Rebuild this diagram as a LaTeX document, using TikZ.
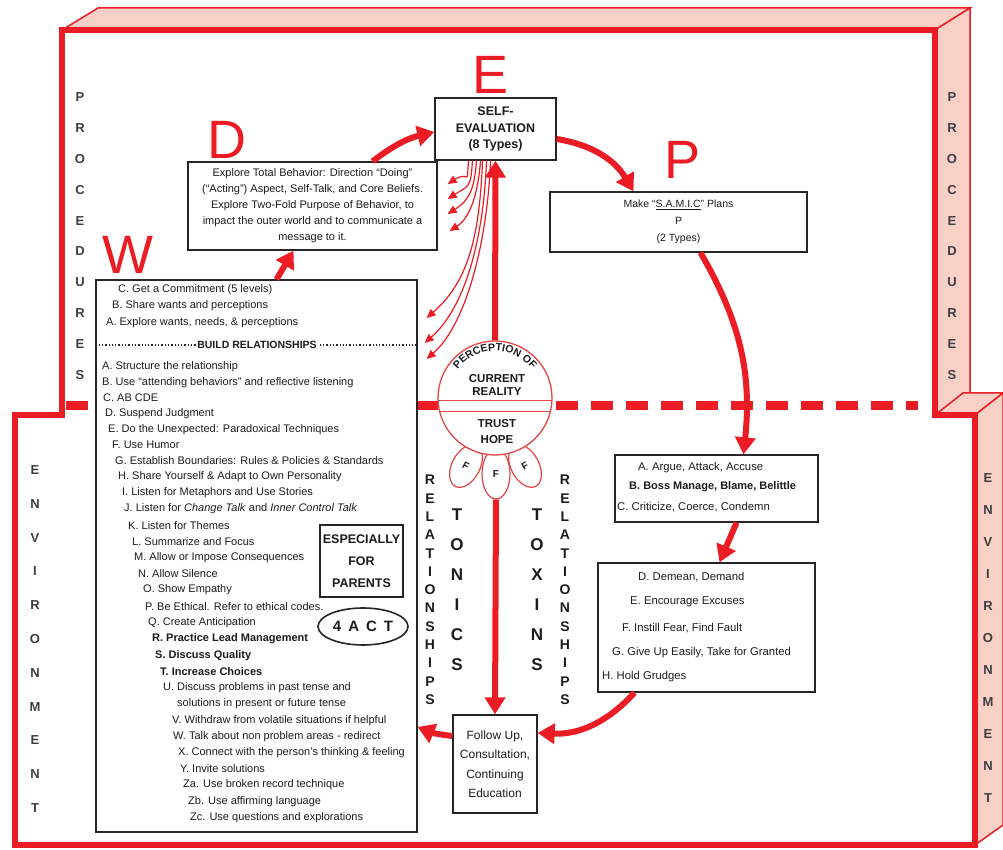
\documentclass[tikz,border=0pt]{standalone}
\usepackage{fontspec}
\setmainfont{Liberation Sans}
\usetikzlibrary{arrows.meta,shapes.geometric,decorations.text,calc}
\definecolor{myred}{RGB}{236,28,36}
\definecolor{pinkface}{RGB}{249,208,198}
\definecolor{txt}{RGB}{28,28,28}
\definecolor{petalred}{RGB}{226,70,70}
\begin{document}
\begin{tikzpicture}[x=1pt,y=1pt,
  box/.style={draw=black!85, line width=1.3pt, fill=white, inner sep=2pt, text=txt},
  wtext/.style={anchor=west, inner sep=0pt, text=txt, font=\fontsize{11}{12}\selectfont},
  rtext/.style={anchor=west, inner sep=0pt, text=txt, font=\fontsize{11.3}{12}\selectfont},
  bigletter/.style={text=myred, inner sep=0pt, font=\fontsize{54}{54}\selectfont},
  sidelet/.style={text=txt!85, inner sep=0pt, font=\bfseries\fontsize{13}{13}\selectfont},
  vlet/.style={text=txt, inner sep=0pt, font=\bfseries\fontsize{17}{17}\selectfont},
  rlet/.style={text=txt, inner sep=0pt, font=\bfseries\fontsize{14}{14}\selectfont},
  bigarrow/.style={draw=myred, line width=6pt, -{Triangle[length=17pt,width=20pt]}},
  thinarrow/.style={draw=myred, line width=1.2pt, -{Triangle[length=9pt,width=8pt]}},
  facestyle/.style={fill=pinkface, draw=myred, line width=1.5pt},
  ctext/.style={text=txt, inner sep=0pt, font=\bfseries\fontsize{11.5}{12}\selectfont}
]
\useasboundingbox (0,0) rectangle (1003,850);
\fill[white] (0,0) rectangle (1003,850);

% 3D frame faces
\filldraw[facestyle] (62,820) -- (98,842) -- (970,842) -- (935,820) -- cycle;
\filldraw[facestyle] (935,820) -- (970,842) -- (970,457) -- (935,435) -- cycle;
\filldraw[facestyle] (935,435) -- (963,457) -- (1003,457) -- (975,435) -- cycle;
\filldraw[facestyle] (975,435) -- (1003,457) -- (1003,25) -- (975,5) -- cycle;
\draw[myred, line width=6pt, line join=miter] (15,5) -- (15,435) -- (62,435) -- (62,820) -- (935,820) -- (935,435) -- (975,435) -- (975,5) -- cycle;

% dashed boundary
\draw[myred, line width=9pt, dash pattern=on 22pt off 13pt] (66,444) -- (918,444);

% side labels
\foreach \l [count=\i] in {P,R,O,C,E,D,U,R,E,S} {
  \node[sidelet] (lp\i) at (80,{753-30.9*(\i-1)}) {\l};
  \node[sidelet] (rp\i) at (952,{753-30.9*(\i-1)}) {\l};
}
\foreach \l [count=\i] in {E,N,V,I,R,O,N,M,E,N,T} {
  \node[sidelet] (le\i) at (35,{380-33.8*(\i-1)}) {\l};
  \node[sidelet] (re\i) at (988,{372-32*(\i-1)}) {\l};
}

% big letters
\node[bigletter] (bigE) at (491,775) {E};
\node[bigletter] (bigD) at (227,710) {D};
\node[bigletter] (bigP) at (682,690) {P};
\node[bigletter] (bigW) at (128,595) {W};

% main boxes
\node[box, minimum width=121pt, minimum height=62pt, align=center,
      font=\bfseries\fontsize{12.5}{16.5}\selectfont] (E) at (495.5,721) {SELF-\\EVALUATION\\(8 Types)};
\node[box, minimum width=249pt, minimum height=88pt, align=center,
      font=\fontsize{11}{16}\selectfont] (D) at (312.5,644)
  {Explore Total Behavior: Direction ``Doing''\\(``Acting'') Aspect, Self-Talk, and Core Beliefs.\\Explore Two-Fold Purpose of Behavior, to\\impact the outer world and to communicate a\\message to it.};
\node[box, minimum width=257pt, minimum height=60pt, align=center,
      font=\fontsize{10.5}{17}\selectfont] (P) at (678.5,628)
  {Make ``\underline{S.A.M.I.C}'' Plans\\P\\(2 Types)};
\node[box, minimum width=321pt, minimum height=552pt] (W) at (256.5,294) {};
\node[box, minimum width=203pt, minimum height=67pt] (ABC) at (716.5,361.5) {};
\node[box, minimum width=217pt, minimum height=129pt] (DEF) at (706.5,222.5) {};
\node[box, minimum width=84pt, minimum height=98pt, align=center,
      font=\fontsize{12}{19.5}\selectfont] (F) at (495,86) {Follow Up,\\Consultation,\\Continuing\\Education};

% W box content
\draw[black!85, line width=1.3pt, dotted] (W.west |- 0,505) -- (W.east |- 0,505);
\node[fill=white, inner sep=1.5pt, text=txt, font=\bfseries\fontsize{10.5}{12}\selectfont] (build) at (257,505) {BUILD RELATIONSHIPS};
\foreach \lx/\ly/\lt [count=\i] in {
  118/290/{C. Get a Commitment (5 levels)},
  112/306/{B. Share wants and perceptions},
  106/323/{A. Explore wants, needs, \& perceptions},
  102/367/{A. Structure the relationship},
  102/383/{B. Use ``attending behaviors'' and reflective listening},
  103/398/{C. AB CDE},
  105/414/{D. Suspend Judgment},
  108/430/{E. Do the Unexpected: Paradoxical Techniques},
  112/445/{F. Use Humor},
  115/461/{G. Establish Boundaries: Rules \& Policies \& Standards},
  118/477/{H. Share Yourself \& Adapt to Own Personality},
  122/493/{I. Listen for Metaphors and Use Stories},
  124/509/{J. Listen for \textit{Change Talk} and \textit{Inner Control Talk}},
  128/526/{K. Listen for Themes},
  132/542/{L. Summarize and Focus},
  134/558/{M. Allow or Impose Consequences},
  138/574/{N. Allow Silence},
  143/590/{O. Show Empathy},
  145/607/{P. Be Ethical. Refer to ethical codes.},
  148/623/{Q. Create Anticipation},
  152/639/{\textbf{R. Practice Lead Management}},
  155/656/{\textbf{S. Discuss Quality}},
  160/672/{\textbf{T. Increase Choices}},
  163/688/{U. Discuss problems in past tense and},
  177/704/{solutions in present or future tense},
  172/721/{V. Withdraw from volatile situations if helpful},
  173/737/{W. Talk about non problem areas - redirect},
  178/753/{X. Connect with the person's thinking \& feeling},
  180/769/{Y. Invite solutions},
  183/785/{Za. Use broken record technique},
  188/802/{Zb. Use affirming language},
  190/818/{Zc. Use questions and explorations}} {
  \node[wtext] (wl\i) at (\lx,{850-\ly}) {\lt};
}
\node[box, line width=1.6pt, minimum width=83pt, minimum height=72pt, align=center,
      font=\bfseries\fontsize{12.5}{22}\selectfont] (par) at (361.5,289) {ESPECIALLY\\FOR\\PARENTS};
\node[ellipse, draw=black!85, line width=1.6pt, fill=white, minimum width=90pt, minimum height=37pt, inner sep=0pt, text=txt,
      font=\bfseries\fontsize{15}{15}\selectfont] (act) at (363,223.5) {4\hspace{7pt}A\hspace{7pt}C\hspace{7pt}T};

% ABC box content
\node[rtext] (ta) at (638,{850-468}) {A. Argue, Attack, Accuse};
\node[rtext, font=\bfseries\fontsize{11}{12}\selectfont] (tb) at (629,{850-487}) {B. Boss Manage, Blame, Belittle};
\node[rtext] (tc) at (617,{850-507}) {C. Criticize, Coerce, Condemn};
% DEFGH content
\node[rtext] (td) at (638,{850-577}) {D. Demean, Demand};
\node[rtext] (te) at (630,{850-602}) {E. Encourage Excuses};
\node[rtext] (tf) at (622,{850-628}) {F. Instill Fear, Find Fault};
\node[rtext] (tg) at (612,{850-653}) {G. Give Up Easily, Take for Granted};
\node[rtext] (th) at (602,{850-677}) {H. Hold Grudges};

% petals and circle
\node[ellipse, draw=petalred, fill=white, line width=1.2pt, minimum width=28pt, minimum height=46pt, inner sep=0pt,
      rotate=-28, text=txt, font=\bfseries\fontsize{10}{10}\selectfont] (pet1) at (466,384) {F};
\node[ellipse, draw=petalred, fill=white, line width=1.2pt, minimum width=28pt, minimum height=50pt, inner sep=0pt,
      text=txt, font=\bfseries\fontsize{10}{10}\selectfont] (pet2) at (496,376) {F};
\node[ellipse, draw=petalred, fill=white, line width=1.2pt, minimum width=28pt, minimum height=46pt, inner sep=0pt,
      rotate=28, text=txt, font=\bfseries\fontsize{10}{10}\selectfont] (pet3) at (525,384) {F};
\node[circle, draw=petalred, fill=white, line width=1.3pt, minimum size=114pt, inner sep=0pt] (circ) at (495,452) {};
\draw[petalred, line width=1.2pt] ($(circ.center)+(-56.8,-2.5)$) -- ($(circ.center)+(56.8,-2.5)$);
\draw[petalred, line width=1.2pt] ($(circ.center)+(-55.3,-13.5)$) -- ($(circ.center)+(55.3,-13.5)$);
\path[decorate, decoration={text along path, text align=center,
   text={|\bfseries\fontsize{10.5}{10.5}\selectfont\color{txt}|PERCEPTION OF}}]
   ($(circ.center)+(172:47)$) arc[start angle=172, end angle=8, radius=47];
\node[ctext] (cur) at (497,471.5) {CURRENT};
\node[ctext] (rea) at (497,458) {REALITY};
\node[ctext] (tru) at (497,426) {TRUST};
\node[ctext] (hop) at (497,410) {HOPE};

% vertical words
\foreach \l [count=\i] in {T,O,N,I,C,S} {
  \node[vlet] (ton\i) at (457,{335-30*(\i-1)}) {\l};
}
\foreach \l [count=\i] in {T,O,X,I,N,S} {
  \node[vlet] (tox\i) at (537,{335-30*(\i-1)}) {\l};
}
\foreach \l [count=\i] in {R,E,L,A,T,I,O,N,S,H,I,P,S} {
  \node[rlet] (rl\i) at (430,{370-18.3*(\i-1)}) {\l};
  \node[rlet] (rr\i) at (565,{370-18.3*(\i-1)}) {\l};
}

% main cycle arrows
\draw[bigarrow] ([xshift=60pt]D.north) to[bend left=12] ([yshift=-3pt]E.west);
\draw[bigarrow] ([yshift=-10pt]E.east) to[bend left=25] ([xshift=-45pt]P.north);
\draw[bigarrow] ([xshift=22pt]P.south) to[bend left=18] ([xshift=27pt]ABC.north);
\draw[bigarrow] ([xshift=20pt]ABC.south) -- ([xshift=13pt]DEF.north);
\draw[bigarrow] ([xshift=-72pt]DEF.south) to[bend left=25] ([yshift=31pt]F.east);
\draw[bigarrow] ([yshift=28pt]F.west) to[bend left=8] ([yshift=-171pt]W.east);
\draw[bigarrow] ([xshift=20pt]W.north) -- ([xshift=-19pt]D.south);
\draw[bigarrow] (circ.north) -- (E.south);
\draw[bigarrow] (pet2.south) -- (F.north);

% thin fan arrows from self-evaluation
\foreach \s/\tx/\ty in {-27/10/22, -23/10/7, -19/10/-8, -15/12/-25} {
  \draw[thinarrow] ([xshift=\s pt]E.south) .. controls +(-2,-28) and +(22,14) .. ([shift={(\tx pt,\ty pt)}]D.east);
}
\foreach \s/\tx/\ty in {-13/9/238, -9/7/213, -5/9/197} {
  \draw[thinarrow] ([xshift=\s pt]E.south) .. controls +(-3,-80) and +(40,35) .. ([shift={(\tx pt,\ty pt)}]W.east);
}
\end{tikzpicture}
\end{document}
